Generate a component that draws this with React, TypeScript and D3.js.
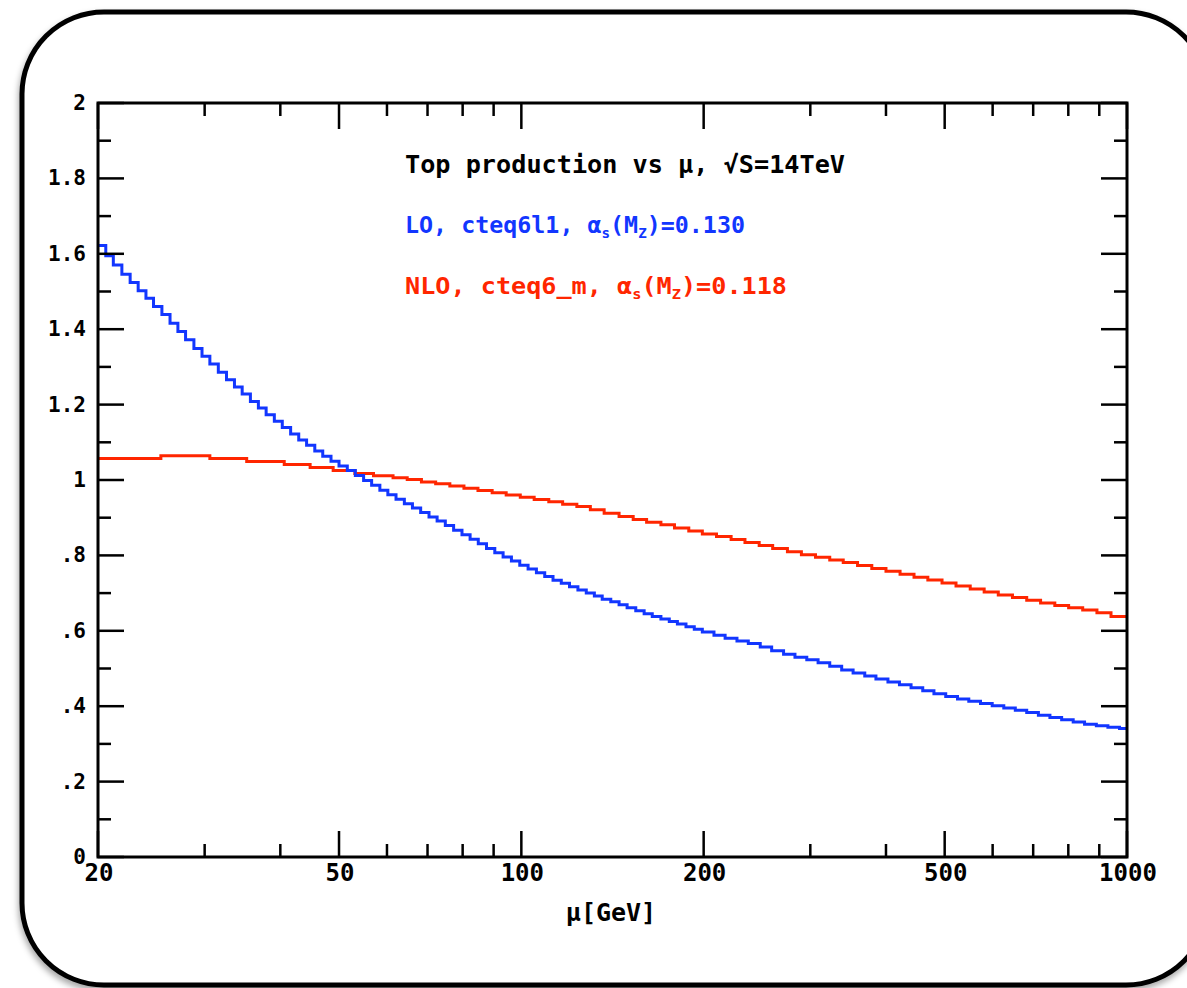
import * as d3 from "d3";
import { useEffect, useRef } from "react";

// LO (cteq6l1) histogram: bin start edges (last entry closes the final bin) and bin values
const loEdges = [
  20, 20.6, 21.2, 21.9, 22.6, 23.3, 24, 24.7, 25.5, 26.3, 27.1, 27.9, 28.8, 29.7, 30.6, 31.6,
  32.6, 33.6, 34.6, 35.7, 36.8, 37.9, 39.1, 40.3, 41.6, 42.9, 44.2, 45.6, 47, 48.5,
  50, 51.6, 53.2, 54.9, 56.6, 58.4, 60.2, 62.1, 64.1, 66.1, 68.2, 70.4, 72.6, 74.9, 77.3,
  79.8, 82.3, 84.9, 87.6, 90.4, 93.3, 96.3, 99.4, 102.6, 105.9, 109.3, 112.8, 116.4, 120.1,
  124, 128, 132, 136, 140.5, 145, 149.5, 154.5, 159.5, 164.5, 170, 175.5, 181, 187, 193,
  199, 208, 217, 227, 237, 248, 259, 271, 283, 296, 309, 323, 338, 353, 369, 385, 403, 421,
  440, 460, 480, 502, 525, 548, 573, 599, 626, 654, 683, 714, 746, 780, 815, 851, 890, 930,
  972, 1000,
];
const loValues = [
  1.622, 1.595, 1.57, 1.546, 1.524, 1.502, 1.482, 1.46, 1.439, 1.416, 1.394, 1.372, 1.349,
  1.328, 1.308, 1.286, 1.266, 1.247, 1.228, 1.208, 1.191, 1.173, 1.156, 1.139, 1.122, 1.106,
  1.092, 1.077, 1.063, 1.05,
  1.037, 1.025, 1.012, 0.999, 0.986, 0.973, 0.961, 0.949, 0.937, 0.926, 0.914, 0.902, 0.891,
  0.879, 0.867, 0.855, 0.843, 0.831, 0.818, 0.807, 0.796, 0.785, 0.774, 0.764, 0.754, 0.744,
  0.734, 0.726, 0.717, 0.708, 0.7, 0.692, 0.684, 0.677, 0.669, 0.661, 0.653, 0.645, 0.638,
  0.631, 0.625, 0.618, 0.611, 0.604, 0.597, 0.588, 0.58, 0.573, 0.566, 0.557, 0.547, 0.538,
  0.53, 0.523, 0.515, 0.506, 0.496, 0.488, 0.48, 0.472, 0.464, 0.457, 0.449, 0.441, 0.433,
  0.426, 0.419, 0.413, 0.407, 0.401, 0.395, 0.389, 0.383, 0.376, 0.37, 0.364, 0.358, 0.352,
  0.348, 0.344, 0.341,
];

// NLO (cteq6_m) histogram
const nloEdges = [
  20, 25.4, 30.6, 35.2, 40.6, 44.8, 48.9, 53.1, 57, 61.4, 64.8, 68.4, 72.2, 76.2, 80.4,
  84.8, 89.5, 94.4, 99.6, 105, 111, 117, 123.5, 130, 137, 145, 153, 161, 170, 179, 189,
  199, 210, 222, 234, 247, 260, 275, 290, 306, 323, 340, 359, 379, 400, 422, 445, 469,
  495, 522, 551, 581, 613, 647, 683, 720, 760, 801, 845, 892, 941, 1000,
];
const nloValues = [
  1.057, 1.064, 1.057, 1.049, 1.041, 1.033, 1.025, 1.017, 1.011, 1.006, 1.001, 0.995, 0.99,
  0.984, 0.978, 0.972, 0.966, 0.96, 0.954, 0.948, 0.942, 0.936, 0.93, 0.921, 0.912, 0.903,
  0.895, 0.888, 0.881, 0.873, 0.865, 0.857, 0.85, 0.842, 0.834, 0.826, 0.818, 0.81, 0.802,
  0.795, 0.788, 0.781, 0.773, 0.765, 0.758, 0.75, 0.742, 0.735, 0.727, 0.719, 0.711, 0.703,
  0.695, 0.688, 0.681, 0.674, 0.667, 0.661, 0.655, 0.648, 0.638,
];

const yTicks = [0, 0.2, 0.4, 0.6, 0.8, 1, 1.2, 1.4, 1.6, 1.8, 2];
const yTickLabels = ["0", ".2", ".4", ".6", ".8", "1", "1.2", "1.4", "1.6", "1.8", "2"];
const yMinorTicks = [0.1, 0.3, 0.5, 0.7, 0.9, 1.1, 1.3, 1.5, 1.7, 1.9];
const xMajorTicks = [20, 50, 100, 200, 500, 1000];
const xTickLabels = ["20", "50", "100", "200", "500", "1000"];
const xMinorTicks = [30, 40, 60, 70, 80, 90, 300, 400, 600, 700, 800, 900];

const BLUE = "#1236ff";
const RED = "#ff2600";
const FONT = "'DejaVu Sans Mono', monospace";

export default function App() {
  const svgRef = useRef(null);

  const W = 1187;
  const H = 988;
  const plot = { left: 98, right: 1127, top: 103, bottom: 857 };

  useEffect(() => {
    const svg = d3.select(svgRef.current);
    svg.selectAll("*").remove();

    const x = d3.scaleLog().domain([20, 1000]).range([plot.left, plot.right]);
    const y = d3.scaleLinear().domain([0, 2]).range([plot.bottom, plot.top]);

    const defs = svg.append("defs");
    const filter = defs.append("filter").attr("id", "shadow")
      .attr("x", "-5%").attr("y", "-5%").attr("width", "110%").attr("height", "110%");
    filter.append("feDropShadow")
      .attr("dx", -1).attr("dy", 4).attr("stdDeviation", 3)
      .attr("flood-color", "#000").attr("flood-opacity", 0.35);
    defs.append("clipPath").attr("id", "plotclip")
      .append("rect")
      .attr("x", plot.left).attr("y", plot.top)
      .attr("width", plot.right - plot.left).attr("height", plot.bottom - plot.top);

    svg.append("rect").attr("width", W).attr("height", H).attr("fill", "#fff");

    // rounded frame
    svg.append("rect")
      .attr("x", 22).attr("y", 12)
      .attr("width", 1186).attr("height", 973)
      .attr("rx", 82).attr("ry", 82)
      .attr("fill", "#fff")
      .attr("stroke", "#000")
      .attr("stroke-width", 5)
      .attr("filter", "url(#shadow)");

    // step lines
    const line = d3.line()
      .x((d) => x(d[0]))
      .y((d) => y(d[1]))
      .curve(d3.curveStepAfter);

    const toPoints = (edges, values) =>
      edges.map((e, i) => [e, values[Math.min(i, values.length - 1)]]);

    const lines = svg.append("g").attr("clip-path", "url(#plotclip)");
    lines.append("path")
      .attr("d", line(toPoints(nloEdges, nloValues)))
      .attr("fill", "none").attr("stroke", RED).attr("stroke-width", 3);
    lines.append("path")
      .attr("d", line(toPoints(loEdges, loValues)))
      .attr("fill", "none").attr("stroke", BLUE).attr("stroke-width", 3);

    // ticks
    const ticks = svg.append("g").attr("stroke", "#000").attr("stroke-width", 2.5);
    const majLen = 26;
    const minLen = 13;
    xMajorTicks.concat(xMinorTicks).forEach((t) => {
      const len = xMajorTicks.includes(t) ? majLen : minLen;
      const px = x(t);
      ticks.append("line").attr("x1", px).attr("x2", px)
        .attr("y1", plot.bottom).attr("y2", plot.bottom - len);
      ticks.append("line").attr("x1", px).attr("x2", px)
        .attr("y1", plot.top).attr("y2", plot.top + len);
    });
    yTicks.concat(yMinorTicks).forEach((t) => {
      const len = yTicks.includes(t) ? majLen : minLen;
      const py = y(t);
      ticks.append("line").attr("x1", plot.left).attr("x2", plot.left + len)
        .attr("y1", py).attr("y2", py);
      ticks.append("line").attr("x1", plot.right).attr("x2", plot.right - len)
        .attr("y1", py).attr("y2", py);
    });

    // plot frame
    svg.append("rect")
      .attr("x", plot.left).attr("y", plot.top)
      .attr("width", plot.right - plot.left).attr("height", plot.bottom - plot.top)
      .attr("fill", "none").attr("stroke", "#000").attr("stroke-width", 3);

    // tick labels
    const labels = svg.append("g")
      .attr("font-family", FONT).attr("font-weight", "bold").attr("fill", "#000");
    yTicks.forEach((t, i) => {
      labels.append("text")
        .attr("x", 86).attr("y", y(t) + 7)
        .attr("text-anchor", "end")
        .attr("font-size", 21)
        .text(yTickLabels[i]);
    });
    xMajorTicks.forEach((t, i) => {
      labels.append("text")
        .attr("x", x(t) + 1).attr("y", 881)
        .attr("text-anchor", "middle")
        .attr("font-size", 24)
        .text(xTickLabels[i]);
    });

    svg.append("text")
      .attr("x", 611).attr("y", 921)
      .attr("text-anchor", "middle")
      .attr("font-family", FONT).attr("font-weight", "bold").attr("font-size", 25)
      .text("μ[GeV]");

    // annotations
    const ann = svg.append("g").attr("font-family", FONT).attr("font-weight", "bold");
    ann.append("text")
      .attr("x", 405).attr("y", 173).attr("font-size", 24)
      .attr("textLength", 440).attr("lengthAdjust", "spacingAndGlyphs")
      .attr("fill", "#000")
      .text("Top production vs μ, √S=14TeV");

    const subText = (yPos, color, pre, sub1, mid, sub2, post, len) => {
      const t = ann.append("text")
        .attr("x", 405).attr("y", yPos).attr("font-size", 23).attr("fill", color)
        .attr("textLength", len).attr("lengthAdjust", "spacingAndGlyphs");
      t.append("tspan").text(pre);
      t.append("tspan").attr("font-size", 14).attr("dy", 5).text(sub1);
      t.append("tspan").attr("dy", -5).text(mid);
      t.append("tspan").attr("font-size", 14).attr("dy", 5).text(sub2);
      t.append("tspan").attr("dy", -5).text(post);
    };
    subText(233, BLUE, "LO, cteq6l1, α", "s", "(M", "Z", ")=0.130", 340);
    subText(294, RED, "NLO, cteq6_m, α", "s", "(M", "Z", ")=0.118", 382);
  }, []);

  return (
    <svg
      ref={svgRef}
      width={W}
      height={H}
      style={{ position: "absolute", left: 0, top: 0, display: "block" }}
    />
  );
}
